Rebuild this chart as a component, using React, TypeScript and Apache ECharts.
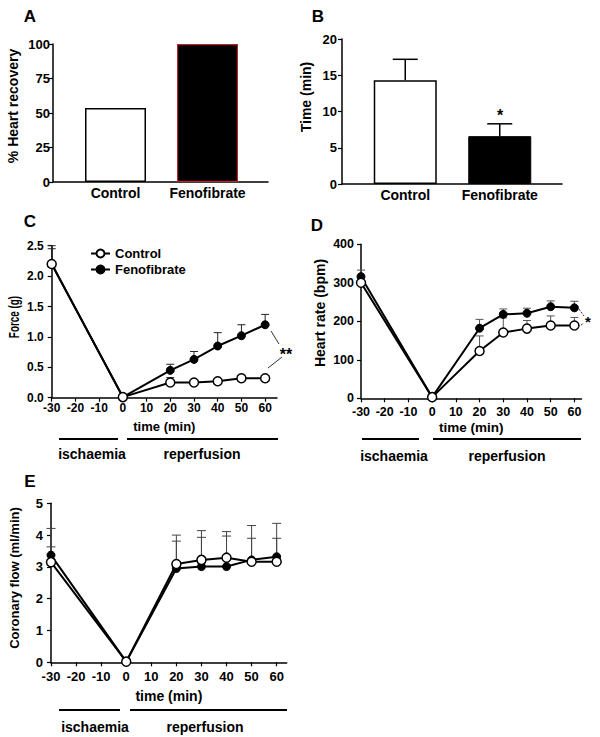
import React, { useEffect, useRef } from "react";
import * as echarts from "echarts";

// ---------- data ----------
const groups = ["Control", "Fenofibrate"];
const heartRecovery = [53.6, 100];
const arrestTime = [14.3, 6.6];
const arrestTimeSem = [2.9, 1.7];

const times = [-30, 0, 20, 30, 40, 50, 60];
const xTicks = [-30, -20, -10, 0, 10, 20, 30, 40, 50, 60];

const forceControl = [2.2, 0.01, 0.25, 0.25, 0.27, 0.32, 0.32];
const forceControlSem = [0.25, 0, 0.08, 0.03, 0.03, 0.05, 0.04];
const forceFeno = [2.2, 0.01, 0.45, 0.63, 0.85, 1.02, 1.2];
const forceFenoSem = [0.3, 0, 0.1, 0.13, 0.22, 0.18, 0.17];

const hrControl = [300, 3, 123, 171, 181, 189, 189];
const hrControlSem = [15, 0, 39, 38, 21, 25, 21];
const hrFeno = [316, 3, 182, 218, 221, 238, 235];
const hrFenoSem = [17, 0, 23, 14, 13, 15, 17];

const flowControl = [3.15, 0.02, 3.09, 3.22, 3.29, 3.16, 3.16];
const flowControlSem = [1.06, 0, 0.91, 0.92, 0.82, 0.74, 0.74];
const flowFeno = [3.37, 0.02, 2.95, 3.01, 3.01, 3.22, 3.32];
const flowFenoSem = [0.26, 0, 0.86, 0.92, 0.96, 1.08, 1.05];

const FONT = "Liberation Sans, Arial, sans-serif";

function errSeries(xi: number, yi: number, data: number[][], color: string, cap: number, width = 1) {
  return {
    type: "custom",
    xAxisIndex: xi,
    yAxisIndex: yi,
    z: 1,
    silent: true,
    data,
    renderItem: (_p: any, api: any) => {
      const x = api.value(0);
      const y = api.value(1);
      const top = api.value(2);
      const a = api.coord([x, y]);
      const b = api.coord([x, top]);
      const style = { stroke: color, lineWidth: width };
      return {
        type: "group",
        children: [
          { type: "line", shape: { x1: a[0], y1: a[1], x2: b[0], y2: b[1] }, style },
          { type: "line", shape: { x1: b[0] - cap / 2, y1: b[1], x2: b[0] + cap / 2, y2: b[1] }, style },
        ],
      };
    },
  };
}

function lineSeries(name: string, xi: number, vals: number[], open: boolean, size = 9) {
  return {
    type: "line",
    name,
    xAxisIndex: xi,
    yAxisIndex: xi,
    z: open ? 4 : 3,
    data: times.map((t, i) => [t, vals[i]]),
    symbol: "circle",
    symbolSize: size,
    lineStyle: { color: "#000", width: 2 },
    itemStyle: open
      ? { color: "#fff", borderColor: "#000", borderWidth: 1.5 }
      : { color: "#000", borderColor: "#000", borderWidth: 1 },
  };
}

function errData(vals: number[], sems: number[]) {
  return times.map((t, i) => [t, vals[i], vals[i] + sems[i]]);
}

const axisLineStyle = { onZero: false, lineStyle: { color: "#000", width: 1.5 } };

function timeXAxis(grid: number, max: number, margin: number, nameGap: number, size: number) {
  return {
    type: "value",
    gridIndex: grid,
    min: -30,
    max,
    axisLine: axisLineStyle,
    axisTick: { show: true, length: 4, lineStyle: { color: "#000", width: 1.2 }, customValues: xTicks },
    axisLabel: { customValues: xTicks, color: "#000", fontWeight: "bold", fontSize: size, fontFamily: FONT, margin },
    splitLine: { show: false },
    name: "time (min)",
    nameLocation: "middle",
    nameGap,
    nameTextStyle: { color: "#000", fontWeight: "bold", fontSize: size + 1, fontFamily: FONT },
  };
}

function valueYAxis(grid: number, max: number, interval: number, margin: number, size: number, fmt?: (v: number) => string) {
  return {
    type: "value",
    gridIndex: grid,
    min: 0,
    max,
    interval,
    axisLine: { show: true, ...axisLineStyle },
    axisTick: { show: true, length: 4, lineStyle: { color: "#000", width: 1.2 } },
    axisLabel: { color: "#000", fontWeight: "bold", fontSize: size, fontFamily: FONT, margin, formatter: fmt },
    splitLine: { show: false },
  };
}

function txt(text: string, x: number, y: number, size: number, extra: any = {}) {
  return {
    type: "text",
    x,
    y,
    z: 10,
    silent: true,
    ...extra,
    style: {
      text,
      fill: "#000",
      fontSize: size,
      fontWeight: "bold",
      fontFamily: FONT,
      align: "center",
      verticalAlign: "middle",
    },
  };
}

function seg(x1: number, y1: number, x2: number, y2: number, w = 2, dash?: number[], color = "#000") {
  return {
    type: "line",
    z: 10,
    silent: true,
    shape: { x1, y1, x2, y2 },
    style: { stroke: color, lineWidth: w, lineDash: dash },
  };
}

const catLabel = { color: "#000", fontWeight: "bold", fontSize: 14, fontFamily: FONT, margin: 4, interval: 0 };

export default function App() {
  const ref = useRef<HTMLDivElement>(null);

  useEffect(() => {
    document.body.style.margin = "0";
    const chart = echarts.init(ref.current!, null, { renderer: "svg" });
    const option: any = {
      animation: false,
      backgroundColor: "#fff",
      textStyle: { fontFamily: FONT },
      grid: [
        { left: 53, top: 44, width: 215, height: 138 },
        { left: 69.5, top: 44, width: 184, height: 138 },
        { left: 342, top: 39, width: 220, height: 145 },
        { left: 358, top: 39, width: 189, height: 145 },
        { left: 51.7, top: 245.7, width: 225.3, height: 152 },
        { left: 361, top: 244.3, width: 220.5, height: 154 },
        { left: 51, top: 503.3, width: 235.7, height: 159 },
      ],
      legend: {
        data: ["Control", "Fenofibrate"],
        orient: "vertical",
        left: 90,
        top: 247,
        itemWidth: 19,
        itemHeight: 10,
        itemGap: 3,
        padding: 0,
        selectedMode: false,
        textStyle: { color: "#000", fontWeight: "bold", fontSize: 13, fontFamily: FONT },
      },
      xAxis: [
        { type: "value", gridIndex: 0, min: 0, max: 1, axisLine: axisLineStyle, axisTick: { show: false }, axisLabel: { show: false }, splitLine: { show: false } },
        { type: "category", gridIndex: 1, data: groups, axisLine: { show: false }, axisTick: { show: false }, axisLabel: catLabel },
        { type: "value", gridIndex: 2, min: 0, max: 1, axisLine: axisLineStyle, axisTick: { show: false }, axisLabel: { show: false }, splitLine: { show: false } },
        { type: "category", gridIndex: 3, data: groups, axisLine: { show: false }, axisTick: { show: false }, axisLabel: catLabel },
        timeXAxis(4, 65, 4, 22, 12),
        timeXAxis(5, 63, 7, 22, 12.5),
        timeXAxis(6, 64, 8, 27, 13),
      ],
      yAxis: [
        valueYAxis(0, 100, 25, 3, 13),
        { type: "value", gridIndex: 1, min: 0, max: 100, show: false },
        valueYAxis(2, 20, 5, 5, 13),
        { type: "value", gridIndex: 3, min: 0, max: 20, show: false },
        valueYAxis(4, 2.5, 0.5, 8, 12, (v: number) => v.toFixed(1)),
        valueYAxis(5, 400, 100, 7, 12.5),
        valueYAxis(6, 5, 1, 8, 13),
      ],
      series: [
        {
          type: "bar",
          name: "recovery",
          xAxisIndex: 1,
          yAxisIndex: 1,
          barWidth: 61,
          data: heartRecovery.map((v, i) => ({
            value: v,
            itemStyle: i === 0
              ? { color: "#fff", borderColor: "#000", borderWidth: 1.5 }
              : { color: "#000", borderColor: "#b3262c", borderWidth: 1.2 },
          })),
        },
        {
          type: "bar",
          name: "time",
          xAxisIndex: 3,
          yAxisIndex: 3,
          barWidth: 63,
          z: 2,
          data: arrestTime.map((v, i) => ({
            value: v,
            itemStyle: i === 0
              ? { color: "#fff", borderColor: "#000", borderWidth: 1.5 }
              : { color: "#000", borderColor: "#000", borderWidth: 1 },
          })),
        },
        errSeries(3, 3, arrestTime.map((v, i) => [i, v, v + arrestTimeSem[i]]), "#000", 25, 1.5),
        errSeries(4, 4, errData(forceControl, forceControlSem), "#222", 8),
        errSeries(4, 4, errData(forceFeno, forceFenoSem), "#222", 8),
        lineSeries("Fenofibrate", 4, forceFeno, false, 8),
        lineSeries("Control", 4, forceControl, true),
        errSeries(5, 5, errData(hrControl, hrControlSem), "#555", 8),
        errSeries(5, 5, errData(hrFeno, hrFenoSem), "#555", 8),
        lineSeries("Fenofibrate", 5, hrFeno, false, 8),
        lineSeries("Control", 5, hrControl, true),
        errSeries(6, 6, errData(flowControl, flowControlSem), "#444", 9),
        errSeries(6, 6, errData(flowFeno, flowFenoSem), "#444", 9),
        lineSeries("Fenofibrate", 6, flowFeno, false, 8),
        lineSeries("Control", 6, flowControl, true),
      ],
      graphic: [
        txt("A", 30, 16, 17),
        txt("B", 318, 16, 17),
        txt("C", 30, 221, 17),
        txt("D", 317, 225, 17),
        txt("E", 30, 481, 17),
        txt("% Heart recovery", 13, 106, 14, { rotation: Math.PI / 2 }),
        txt("Time (min)", 306, 97, 14, { rotation: Math.PI / 2 }),
        txt("Force (g)", 14, 317, 15, { rotation: Math.PI / 2, scaleX: 0.66 }),
        txt("Heart rate (bpm)", 320, 313, 14, { rotation: Math.PI / 2 }),
        txt("Coronary flow (ml/min)", 14, 578, 13, { rotation: Math.PI / 2 }),
        txt("*", 500, 115, 16),
        txt("**", 286, 354, 16),
        txt("*", 588, 321, 15),
        seg(271, 331, 279, 344, 1, undefined, "#333"),
        seg(268, 368, 282, 357, 1, undefined, "#333"),
        seg(579, 309, 584, 316, 1, [2, 1.5], "#333"),
        seg(578, 327, 584, 323, 1, [2, 1.5], "#333"),
        // C annotations
        seg(59, 439, 118, 439),
        seg(127, 439, 278, 439),
        txt("ischaemia", 92, 454, 14),
        txt("reperfusion", 202, 454, 14),
        // D annotations
        seg(362, 439, 419, 439),
        seg(433, 439, 581, 439),
        txt("ischaemia", 394, 456, 14),
        txt("reperfusion", 507, 456, 14),
        // E annotations
        seg(59, 710, 120, 710),
        seg(130, 710, 287, 710),
        txt("ischaemia", 95, 727, 14),
        txt("reperfusion", 205, 727, 14),
      ],
    };
    chart.setOption(option);
    return () => chart.dispose();
  }, []);

  return <div ref={ref} style={{ width: 600, height: 737 }} />;
}
